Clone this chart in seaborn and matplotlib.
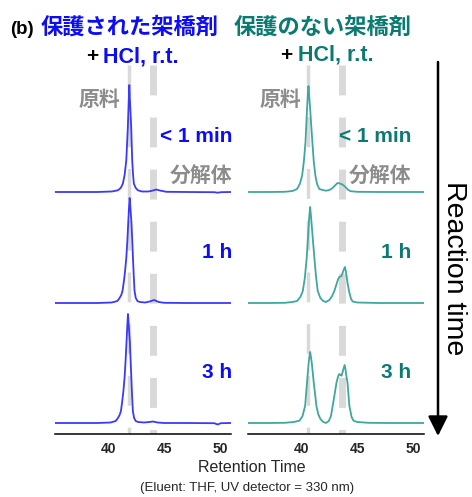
import numpy as np
import pandas as pd
import matplotlib
import matplotlib.pyplot as plt
import seaborn as sns

matplotlib.use('Agg')
sns.set_theme(style='white')
plt.rcParams['font.family'] = ['Liberation Sans', 'Noto Sans CJK JP', 'DejaVu Sans']

# 保護された架橋剤 (left) : retention time / detector signal (px-scaled)
left_1min_t = [35.2, 37.0, 39.0, 40.3, 40.84, 41.1, 41.29, 41.45, 41.6, 41.74, 41.81, 41.87, 41.93,
               42.04, 42.13, 42.21, 42.28, 42.45, 42.64, 43.0, 43.6, 44.0, 44.3, 44.6, 45.2, 47.0,
               49.5, 49.8, 50.1, 51.0]
left_1min = [1, 1, 1, 1.5, 2.7, 5, 9.3, 18, 32.7, 66, 90, 108, 92, 66, 32.7, 18, 9.3, 5, 2.7, 1.5,
             1.5, 2.5, 3.5, 2.5, 1.2, 1, 0.8, 0.3, 0.8, 1]

left_1h_t = [35.2, 37.0, 39.0, 40.3, 40.8, 41.0, 41.15, 41.26, 41.4, 41.5, 41.6, 41.7, 41.77, 41.84,
             41.9, 41.96, 42.02, 42.07, 42.14, 42.2, 42.27, 42.34, 42.45, 42.6, 42.8, 43.3, 43.7,
             44.1, 44.5, 45.0, 47.0, 49.5, 51.0]
left_1h = [1, 1, 1, 1.5, 3, 6, 9, 13, 24, 34, 46, 64, 80, 96, 106, 98, 88, 80, 62, 46, 28, 13, 6, 3,
           2, 1.5, 2.5, 4, 2, 1.2, 1, 1, 1]

left_3h_t = [35.2, 37.0, 39.0, 40.2, 40.65, 40.85, 41.0, 41.12, 41.25, 41.35, 41.45, 41.55, 41.62,
             41.69, 41.75, 41.81, 41.87, 41.92, 41.99, 42.05, 42.12, 42.19, 42.3, 42.45, 42.65,
             43.2, 43.7, 44.0, 44.4, 45.0, 47.0, 49.5, 49.8, 50.1, 51.0]
left_3h = [1, 1, 1, 1.5, 3, 6, 9, 13, 24, 34, 47, 66, 82, 98, 110, 101, 90, 82, 63, 47, 28, 13, 6,
           3, 2, 1.5, 2, 2.5, 1.5, 1, 1, 0.8, -0.5, 0.8, 1]

# 保護のない架橋剤 (right)
right_1min_t = [35.2, 37.0, 38.5, 39.2, 39.6, 39.85, 40.06, 40.22, 40.36, 40.5, 40.58, 40.63, 40.7,
                40.78, 40.88, 40.98, 41.1, 41.25, 41.4, 41.6, 41.9, 42.2, 42.5, 42.8, 43.05, 43.24,
                43.45, 43.7, 43.95, 44.15, 44.4, 45.0, 47.0, 49.5, 51.0]
right_1min = [1, 1, 1.2, 2, 4, 9, 17.3, 32, 50.7, 84, 100, 107, 96, 84, 67, 50.7, 32, 17.3, 9, 4, 3,
              2.3, 3, 5, 8, 10, 9.5, 8.3, 6, 3.5, 1.8, 1.2, 1, 1, 1]

right_1h_t = [35.2, 37.0, 38.5, 39.2, 39.6, 39.9, 40.12, 40.3, 40.47, 40.56, 40.65, 40.72, 40.78,
              40.85, 40.92, 41.04, 41.16, 41.3, 41.46, 41.7, 41.95, 42.2, 42.5, 42.75, 42.95, 43.15,
              43.3, 43.4, 43.5, 43.6, 43.75, 43.9, 43.98, 44.05, 44.15, 44.29, 44.45, 44.6, 45.0,
              47.0, 49.5, 51.0]
right_1h = [1, 1, 1.2, 2, 3, 7, 13, 26, 46, 62, 79, 90, 97, 88, 79, 62, 46, 28, 13, 6, 3, 2, 4, 8,
            13, 20, 25, 27, 27.5, 28, 33, 37, 33, 28, 20, 12, 5, 2.5, 1.5, 1, 1, 1]

right_3h_t = [35.2, 37.0, 38.5, 39.3, 39.82, 40.1, 40.33, 40.5, 40.65, 40.72, 40.78, 40.85, 40.92,
              41.1, 41.34, 41.5, 41.7, 41.95, 42.2, 42.45, 42.65, 42.8, 42.98, 43.15, 43.3, 43.4,
              43.5, 43.6, 43.72, 43.87, 43.95, 44.03, 44.13, 44.3, 44.5, 44.67, 45.0, 46.0, 48.0,
              51.0]
right_3h = [1, 1, 1.2, 2, 3.3, 8, 18.3, 41.7, 61.7, 68, 72, 67, 61.7, 41.7, 18.3, 10, 5, 2, 1, 3, 8,
            18, 30, 41.7, 48, 50, 49, 48.3, 53, 59, 55, 48, 41.7, 18, 7, 3.3, 2, 1.2, 1, 1]

time_labels = ['< 1 min', '1 h', '3 h']
trace_offsets = [231, 120, 0]
left_guides = [41.8, 44.0]   # 原料 / 分解体
right_guides = [40.6, 43.6]
xticks = [40, 45, 50]

BLUE_TXT = '#0c0cf5'
BLUE_LINE = '#3a3af7'
TEAL_TXT = '#0b7b72'
TEAL_LINE = '#3fa79d'
GRAY_TXT = '#8c8c8c'
GRAY_GUIDE = '#d9d9d9'

W, H = 472, 497
fig = plt.figure(figsize=(W / 100, H / 100), dpi=100)


def fx(px):
    return px / W


def fy(py):
    return 1 - py / H


panels = [
    (55, [(left_1min_t, left_1min), (left_1h_t, left_1h), (left_3h_t, left_3h)], left_guides, BLUE_LINE),
    (248, [(right_1min_t, right_1min), (right_1h_t, right_1h), (right_3h_t, right_3h)], right_guides, TEAL_LINE),
]

for x0, traces, guides, lc in panels:
    ax = fig.add_axes([fx(x0), fy(434), fx(176), fy(62) - fy(434)])
    # 点線ガイド（細: 原料, 太: 分解体）
    for g, lw, dash in zip(guides, [2.5, 5.0], [(8.6, 6.3), (4.3, 3.2)]):
        ax.plot([g, g], [359, -10], color=GRAY_GUIDE, lw=lw, ls=(0, dash), zorder=1,
                dash_capstyle='butt')
    for (t, y), off in zip(traces, trace_offsets):
        df = pd.DataFrame({'time': t, 'signal': np.array(y) + off})
        sns.lineplot(data=df, x='time', y='signal', ax=ax, color=lc, lw=1.3, zorder=3,
                     sort=False, estimator=None)
    ax.set_xlim(35.2, 51.0)
    ax.set_ylim(-10, 362)
    ax.set_xticks(xticks)
    ax.set_xticklabels([str(v) for v in xticks], fontsize=10, fontweight='bold')
    ax.set_yticks([])
    ax.set_xlabel('')
    ax.set_ylabel('')
    ax.tick_params(axis='x', length=0, pad=6)
    for s in ['left', 'right', 'top']:
        ax.spines[s].set_visible(False)
    ax.spines['bottom'].set_color('black')
    ax.spines['bottom'].set_linewidth(1.1)
    ax.set_facecolor('none')

# タイトル
fig.text(fx(10), fy(30), '(b)', fontsize=13.5, fontweight='bold', color='black', va='center')
fig.text(fx(130), fy(28), '保護された架橋剤', fontsize=16, fontweight='bold', color=BLUE_TXT,
         ha='center', va='center')
fig.text(fx(323), fy(28), '保護のない架橋剤', fontsize=16, fontweight='bold', color=TEAL_TXT,
         ha='center', va='center')
for px_plus, px_hcl, base, col in [(86, 103, 62, BLUE_TXT), (280, 298, 61, TEAL_TXT)]:
    fig.text(fx(px_plus), fy(base), '+', fontsize=15, fontweight='bold', color='black',
             va='baseline')
    fig.text(fx(px_hcl), fy(base), 'HCl, r.t.', fontsize=15.5, fontweight='bold', color=col,
             va='baseline')

# パネル内ラベル
for cx in [99, 280]:
    fig.text(fx(cx), fy(100), '原料', fontsize=15, fontweight='bold', color=GRAY_TXT,
             ha='center', va='center')
for rx, col in [(232, BLUE_TXT), (411, TEAL_TXT)]:
    fig.text(fx(rx), fy(177), '分解体', fontsize=15, fontweight='bold', color=GRAY_TXT,
             ha='right', va='center')
    for lab, py in zip(time_labels, [137, 253, 372]):
        fig.text(fx(rx), fy(py), lab, fontsize=15, fontweight='bold', color=col,
                 ha='right', va='center')

# 反応時間の矢印
fig.add_artist(matplotlib.patches.FancyArrowPatch(
    (fx(438), fy(62)), (fx(438), fy(436)), transform=fig.transFigure,
    arrowstyle='-|>,head_length=0.6,head_width=0.3', mutation_scale=20,
    lw=1.8, color='black', shrinkA=0, shrinkB=0))
fig.text(fx(454), fy(268), 'Reaction time', fontsize=20.5, rotation=-90, color='black',
         ha='center', va='center')

fig.text(fx(252), fy(467), 'Retention Time', fontsize=11.5, ha='center', va='center')
fig.text(fx(247), fy(488), '(Eluent: THF, UV detector = 330 nm)', fontsize=9.5,
         ha='center', va='center')

fig.savefig('out.png', dpi=100)
